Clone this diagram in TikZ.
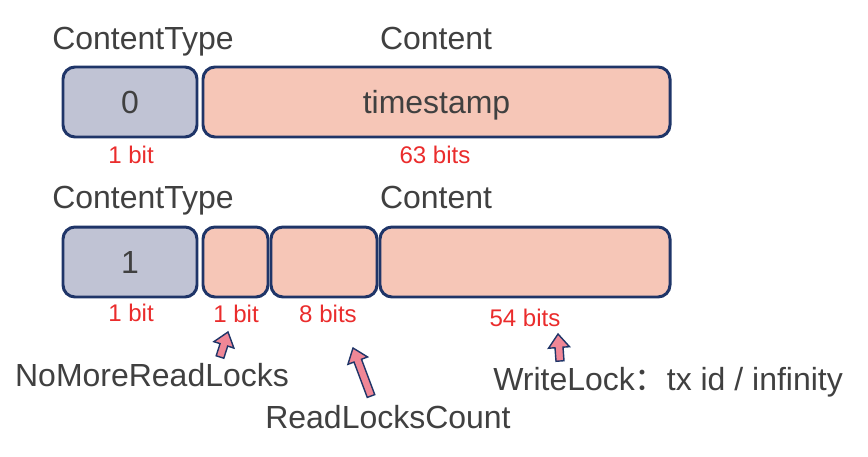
\documentclass[tikz,border=0pt]{standalone}
\usepackage{fontspec}
\setmainfont{Liberation Sans}
\newfontfamily\cjk{Noto Sans CJK SC}
\usetikzlibrary{calc}

\definecolor{fieldborder}{RGB}{31,53,104}
\definecolor{typefill}{RGB}{192,195,212}
\definecolor{contentfill}{RGB}{246,198,183}
\definecolor{bitred}{RGB}{234,44,44}
\definecolor{textgray}{RGB}{64,64,64}
\definecolor{arrowfill}{RGB}{240,135,150}

% fat arrow from #1 (tail) to #2 (tip)
\newcommand{\blockarrow}[2]{%
  \coordinate (head base) at ($(#2)!0.27cm!(#1)$);
  \draw [block arrow] ($(#1)!0.08cm!90:(#2)$)
    -- ($(head base)!0.08cm!-90:(#1)$)
    -- ($(head base)!0.21cm!-90:(#1)$)
    -- (#2)
    -- ($(head base)!0.21cm!90:(#1)$)
    -- ($(head base)!0.08cm!90:(#1)$)
    -- ($(#1)!0.08cm!-90:(#2)$) -- cycle;}

\begin{document}
\begin{tikzpicture}[x=0.02cm, y=-0.02cm,
  every field/.style={draw=fieldborder, line width=1.7pt, rounded corners=0.24cm,
    minimum height=1.4cm, inner sep=0pt, text depth=0pt, text=textgray,
    font=\fontsize{18.2}{22}\selectfont},
  type field/.style={every field, fill=typefill},
  content field/.style={every field, fill=contentfill},
  field label/.style={text=textgray, inner sep=0pt, anchor=base,
    font=\fontsize{18.2}{22}\selectfont},
  bit label/.style={text=bitred, inner sep=0pt, anchor=base,
    font=\fontsize{13.7}{16}\selectfont},
  block arrow/.style={draw=fieldborder, fill=arrowfill, line width=0.8pt, line join=miter}]

\useasboundingbox (0,0) rectangle (868,456);

% timestamp word
\node [type field, minimum width=134*0.02cm] (type-1) at (130,102) {0};
\node [content field, minimum width=467*0.02cm] (content-1) at (436.5,102) {timestamp};

% lock word
\node [type field, minimum width=134*0.02cm] (type-2) at (130,262) {1};
\foreach \m/\x/\w in {flag/235.5/65, count/324/106, owner/525/290}
  \node [content field, minimum width=\w*0.02cm] (lock-\m) at (\x,262) {};

\foreach \y [count=\i] in {50,208}
{
  \node [field label] (type-label-\i) at (143,\y) {ContentType};
  \node [field label] (content-label-\i) at (436,\y) {Content};
}

\node [bit label] (bits-type-1) at (131,163) {1 bit};
\node [bit label] (bits-content-1) at (435,163) {63 bits};
\node [bit label] (bits-type-2) at (131,321) {1 bit};
\node [bit label] (bits-flag) at (236,322) {1 bit};
\node [bit label] (bits-count) at (328,322) {8 bits};
\node [bit label] (bits-owner) at (525,326) {54 bits};

\node [field label] (flag-name) at (152,386) {NoMoreReadLocks};
\node [field label] (count-name) at (388,428) {ReadLocksCount};
\node [field label, anchor=base west] (owner-name) at (493,390) {WriteLock{\cjk ：}tx id / infinity};

\coordinate (flag-tail) at (220,357);
\coordinate (flag-tip) at (228,332);
\coordinate (count-tail) at (371,396);
\coordinate (count-tip) at (353,348);
\coordinate (owner-tail) at (560,361);
\coordinate (owner-tip) at (558,334);

\blockarrow{flag-tail}{flag-tip}
\blockarrow{count-tail}{count-tip}
\blockarrow{owner-tail}{owner-tip}
\end{tikzpicture}
\end{document}
